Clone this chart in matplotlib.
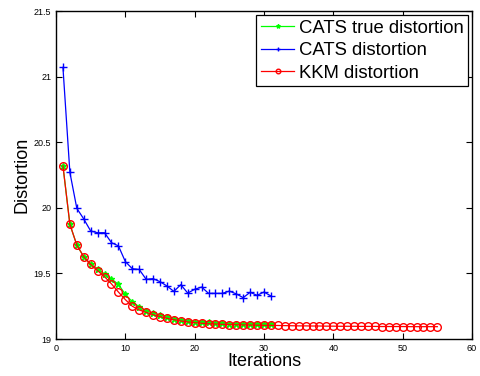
import numpy as np
import matplotlib
matplotlib.use('Agg')
import matplotlib.pyplot as plt

plt.rcParams['font.family'] = ['Liberation Sans', 'DejaVu Sans']

# CATS true distortion (iterations 1..31)
cats_true = [20.32, 19.874, 19.716, 19.627, 19.569, 19.536, 19.495, 19.457, 19.417, 19.34,
             19.284, 19.246, 19.216, 19.196, 19.183, 19.168, 19.155, 19.145, 19.137, 19.132,
             19.13, 19.126, 19.122, 19.12, 19.118, 19.116, 19.115, 19.114, 19.113, 19.112, 19.112]

# CATS distortion (iterations 1..31)
cats = [21.07, 20.27, 19.996, 19.915, 19.823, 19.81, 19.81, 19.734, 19.71, 19.59,
        19.536, 19.53, 19.455, 19.46, 19.437, 19.404, 19.363, 19.414, 19.35, 19.379,
        19.396, 19.348, 19.348, 19.348, 19.365, 19.344, 19.315, 19.356, 19.333, 19.358, 19.328]

# KKM distortion (iterations 1..55)
kkm = [20.32, 19.874, 19.716, 19.627, 19.569, 19.52, 19.475, 19.42, 19.358, 19.30,
       19.25, 19.221, 19.203, 19.185, 19.17, 19.158, 19.147, 19.137, 19.13, 19.124,
       19.12, 19.116, 19.114, 19.112, 19.11, 19.108, 19.107, 19.106, 19.105, 19.104,
       19.104, 19.103, 19.102, 19.101, 19.1, 19.1, 19.099, 19.099, 19.098, 19.098,
       19.097, 19.097, 19.097, 19.096, 19.096, 19.096, 19.095, 19.095, 19.095, 19.095,
       19.094, 19.094, 19.094, 19.094, 19.094]

it_cats = np.arange(1, len(cats) + 1)
it_kkm = np.arange(1, len(kkm) + 1)

fig = plt.figure(figsize=(4.8, 3.76), dpi=100)
ax = fig.add_axes([0.1167, 0.0984, 0.8666, 0.8723])

ax.plot(it_cats, cats_true, color='#00ff00', marker='*', markersize=5, linewidth=0.9,
        label='CATS true distortion')
ax.plot(it_cats, cats, color='#0000ff', marker='+', markersize=6, linewidth=0.9,
        label='CATS distortion')
ax.plot(it_kkm, kkm, color='#ff0000', marker='o', markersize=5.5, markerfacecolor='none',
        linewidth=0.9, label='KKM distortion')

ax.set_xlim(0, 60)
ax.set_ylim(19, 21.5)
ax.set_xticks([0, 10, 20, 30, 40, 50, 60])
ax.set_yticks([19, 19.5, 20, 20.5, 21, 21.5])
ax.set_yticklabels(['19', '19.5', '20', '20.5', '21', '21.5'])
ax.tick_params(direction='in', top=True, right=True, labelsize=6.5, length=4, width=0.8)
for s in ax.spines.values():
    s.set_linewidth(1.0)

ax.set_xlabel('Iterations', fontsize=13, labelpad=0)
ax.set_ylabel('Distortion', fontsize=13, labelpad=2)

leg = ax.legend(loc='upper right', bbox_to_anchor=(0.991, 0.988), fontsize=13.3,
                handlelength=1.8, handletextpad=0.25, borderpad=0.25, labelspacing=0.3,
                borderaxespad=0, fancybox=False, framealpha=1, edgecolor='black',
                markerscale=0.6)
leg.get_frame().set_linewidth(0.9)

fig.savefig('out.png', dpi=100)
